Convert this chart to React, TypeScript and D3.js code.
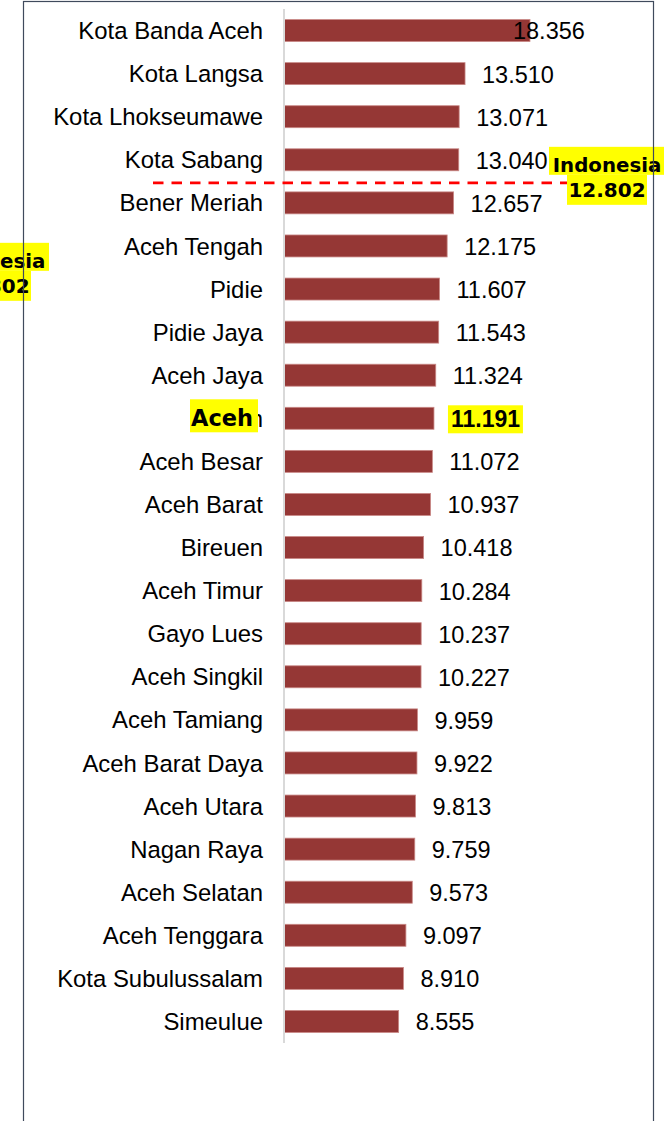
import React, { useRef, useEffect } from "react";
import * as d3 from "d3";

const regions = [
  "Kota Banda Aceh", "Kota Langsa", "Kota Lhokseumawe", "Kota Sabang",
  "Bener Meriah", "Aceh Tengah", "Pidie", "Pidie Jaya", "Aceh Jaya", "Aceh",
  "Aceh Besar", "Aceh Barat", "Bireuen", "Aceh Timur", "Gayo Lues",
  "Aceh Singkil", "Aceh Tamiang", "Aceh Barat Daya", "Aceh Utara",
  "Nagan Raya", "Aceh Selatan", "Aceh Tenggara", "Kota Subulussalam", "Simeulue",
];
const values = [
  18.356, 13.51, 13.071, 13.04, 12.657, 12.175, 11.607, 11.543, 11.324, 11.191,
  11.072, 10.937, 10.418, 10.284, 10.237, 10.227, 9.959, 9.922, 9.813, 9.759,
  9.573, 9.097, 8.91, 8.555,
];
const highlight = "Aceh";
const nationalLabel = "Indonesia";
const nationalValue = 12.802;

const W = 664;
const H = 1121;
const FONT = "'Liberation Sans', Arial, sans-serif";
const BOLD = "'DejaVu Sans', Verdana, sans-serif";

const App = () => {
  const svgRef = useRef<SVGSVGElement>(null);

  useEffect(() => {
    const svg = d3.select(svgRef.current);
    svg.selectAll("*").remove();

    const data = regions.map((name, i) => ({ name, value: values[i] }));
    const maxV = d3.max(values) as number;

    const x = d3.scaleLinear().domain([0, 20]).range([284, 552]);
    const y = d3
      .scaleBand()
      .domain(regions)
      .range([9, 1043])
      .paddingInner(0.49)
      .paddingOuter(0.245);
    const mid = (n: string) => (y(n) as number) + y.bandwidth() / 2;

    svg.append("rect").attr("width", W).attr("height", H).attr("fill", "#fff");

    // bars
    svg
      .append("g")
      .selectAll("rect")
      .data(data)
      .enter()
      .append("rect")
      .attr("x", x(0))
      .attr("y", (d) => y(d.name) as number)
      .attr("width", (d) => x(d.value) - x(0))
      .attr("height", y.bandwidth())
      .attr("fill", "#953735")
      .attr("stroke", "#c98886")
      .attr("stroke-width", 0.8);

    // axis line
    svg
      .append("line")
      .attr("x1", x(0))
      .attr("x2", x(0))
      .attr("y1", 9)
      .attr("y2", 1043)
      .attr("stroke", "#d9d9d9")
      .attr("stroke-width", 2);

    // category labels
    svg
      .append("g")
      .selectAll("text")
      .data(data)
      .enter()
      .append("text")
      .attr("x", 263)
      .attr("y", (d) => mid(d.name))
      .attr("dy", "0.36em")
      .attr("text-anchor", "end")
      .style("font-family", FONT)
      .style("font-size", "23.9px")
      .style("fill", "#000")
      .text((d) => d.name);

    // value labels
    const fmt = d3.format(".3f");
    const labelX = (d: { value: number }) =>
      d.value === maxV ? x(d.value) - 17 : x(d.value) + 17;
    svg
      .append("g")
      .selectAll("text")
      .data(data.filter((d) => d.name !== highlight))
      .enter()
      .append("text")
      .attr("x", labelX)
      .attr("y", (d) => mid(d.name))
      .attr("dy", "0.38em")
      .style("font-family", FONT)
      .style("font-size", "23.5px")
      .style("fill", "#000")
      .text((d) => fmt(d.value));

    // highlighted region
    const hl = data.find((d) => d.name === highlight)!;
    const hy = mid(hl.name);
    const hName = svg.append("g");
    hName
      .append("rect")
      .attr("x", 190)
      .attr("y", hy - 19)
      .attr("width", 68)
      .attr("height", 33)
      .attr("fill", "#ffff00");
    hName
      .append("text")
      .attr("x", 191)
      .attr("y", hy)
      .attr("dy", "0.36em")
      .style("font-family", BOLD)
      .style("font-weight", "bold")
      .style("font-size", "22.5px")
      .text(hl.name);

    const hVal = svg.append("g");
    hVal
      .append("rect")
      .attr("x", labelX(hl) - 3)
      .attr("y", hy - 13)
      .attr("width", 75)
      .attr("height", 28)
      .attr("fill", "#ffff00");
    hVal
      .append("text")
      .attr("x", labelX(hl))
      .attr("y", hy)
      .attr("dy", "0.38em")
      .style("font-family", FONT)
      .style("font-weight", "bold")
      .style("font-size", "23px")
      .text(fmt(hl.value));

    // national average line (ranked between regions)
    const above = data.filter((d) => d.value >= nationalValue);
    const below = data.filter((d) => d.value < nationalValue);
    const lineY =
      (mid(above[above.length - 1].name) + mid(below[0].name)) / 2 + 1.5;
    svg
      .append("line")
      .attr("x1", 153)
      .attr("x2", 567)
      .attr("y1", lineY)
      .attr("y2", lineY)
      .attr("stroke", "#ff0000")
      .attr("stroke-width", 2.7)
      .attr("stroke-dasharray", "10.5 8");

    const natLabel = (cx: number, top: number) => {
      const g = svg.append("g");
      g.append("rect")
        .attr("x", cx - 58)
        .attr("y", top)
        .attr("width", 116)
        .attr("height", 28)
        .attr("fill", "#ffff00");
      g.append("rect")
        .attr("x", cx - 40)
        .attr("y", top + 28)
        .attr("width", 80)
        .attr("height", 30)
        .attr("fill", "#ffff00");
      g.append("text")
        .attr("x", cx)
        .attr("y", top + 25)
        .attr("text-anchor", "middle")
        .style("font-family", BOLD)
        .style("font-weight", "bold")
        .style("font-size", "19.8px")
        .text(nationalLabel);
      g.append("text")
        .attr("x", cx)
        .attr("y", top + 50)
        .attr("text-anchor", "middle")
        .style("font-family", BOLD)
        .style("font-weight", "bold")
        .style("font-size", "20px")
        .text(fmt(nationalValue));
    };
    natLabel(607, lineY - 36);
    natLabel(-9, lineY + 60);

    // chart frame
    svg
      .append("rect")
      .attr("x", 23.5)
      .attr("y", 1.5)
      .attr("width", 630)
      .attr("height", H + 50)
      .attr("fill", "none")
      .attr("stroke", "#3f4a5c")
      .attr("stroke-width", 1.2);

    return () => {
      svg.selectAll("*").remove();
    };
  }, []);

  return (
    <svg
      ref={svgRef}
      width={W}
      height={H}
      style={{ position: "absolute", left: 0, top: 0, display: "block" }}
    ></svg>
  );
};

export default App;
